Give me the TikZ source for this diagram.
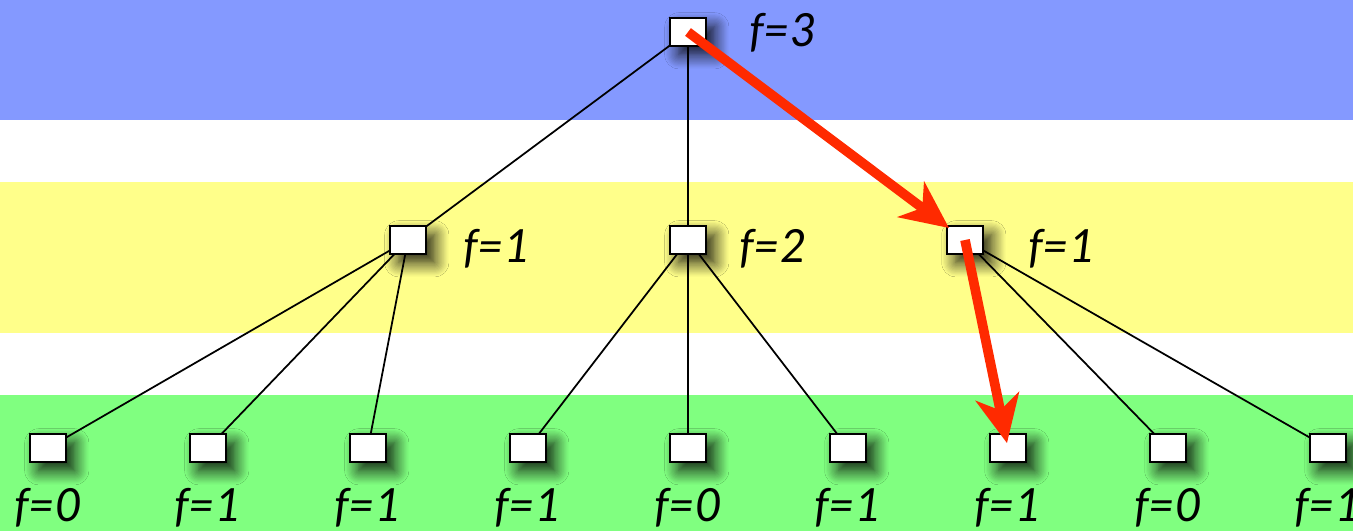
\documentclass[tikz,border=0pt]{standalone}
\usepackage{fontspec}
\setmainfont{Lato}
\usetikzlibrary{arrows.meta,backgrounds,shadows.blur}
\definecolor{bandblue}{RGB}{132,153,255}
\definecolor{bandyellow}{RGB}{255,255,138}
\definecolor{bandgreen}{RGB}{128,255,128}
\definecolor{arrowred}{RGB}{255,42,0}
\tikzset{
  box/.style={draw=black, line width=1.1pt, fill=white, minimum width=0.72cm, minimum height=0.56cm, inner sep=0pt,
    blur shadow={shadow xshift=5pt, shadow yshift=-5pt, shadow blur radius=8pt, shadow opacity=90, shadow blur steps=12}},
  flabel/.style={anchor=base, inner sep=0pt, font=\fontsize{26}{30}\selectfont\itshape},
  edge/.style={draw=black, line width=1pt},
  redarrow/.style={draw=arrowred, line width=5.5pt, -{Stealth[length=27pt,width=25pt,inset=8pt]}}
}
\begin{document}
\begin{tikzpicture}[x=0.02cm,y=-0.02cm]
\useasboundingbox (0,0) rectangle (1353,531);
% nodes
\node[box] (top) at (688,32) {};
\node[box] (ml) at (408,240) {};
\node[box] (mm) at (688,240) {};
\node[box] (mr) at (965,240) {};
\foreach \i/\x in {1/48,2/208,3/368,4/528,5/688,6/848,7/1008,8/1168,9/1328}
  \node[box] (b\i) at (\x,448) {};
% labels
\node[flabel] (lt) at (783,46) {f=3};
\node[flabel] (lml) at (497,262) {f=1};
\node[flabel] (lmm) at (773,262) {f=2};
\node[flabel] (lmr) at (1062,262) {f=1};
\foreach \i/\x/\t in {1/48/0,2/208/1,3/368/1,4/528/1,5/688/0,6/848/1,7/1008/1,8/1168/0,9/1328/1}
  \node[flabel] (lb\i) at (\x,521) {f=\t};
% background
\begin{scope}[on background layer]
  \fill[bandblue] (0,0) rectangle (1353,120);
  \fill[bandyellow] (0,182) rectangle (1353,333);
  \fill[bandgreen] (0,395) rectangle (1353,531);
  \foreach \m in {ml,mm,mr} \draw[edge] (top.center) -- (\m.center);
  \foreach \b in {b1,b2,b3} \draw[edge] (ml.center) -- (\b.center);
  \foreach \b in {b4,b5,b6} \draw[edge] (mm.center) -- (\b.center);
  \foreach \b in {b7,b8,b9} \draw[edge] (mr.center) -- (\b.center);
\end{scope}
% red path
\draw[redarrow, shorten >=0.4cm] (top.center) -- (mr.center);
\draw[redarrow, shorten >=0.1cm] (mr.center) -- (b7.center);
\end{tikzpicture}
\end{document}
